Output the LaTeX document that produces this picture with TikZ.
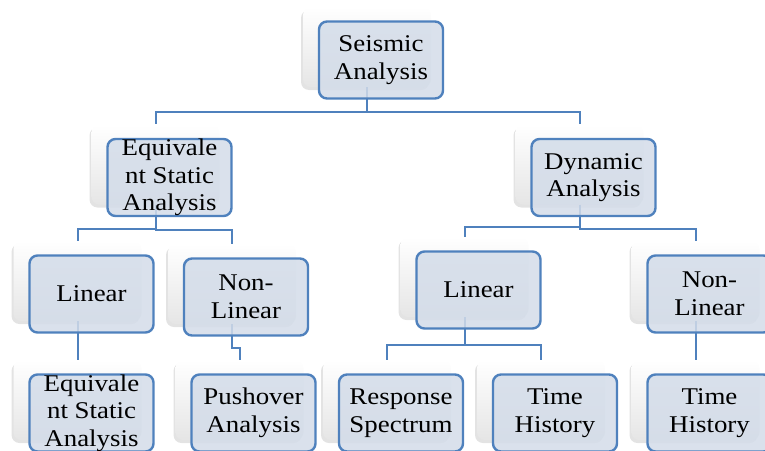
\documentclass[tikz,border=0pt]{standalone}
\usepackage{fontspec}
\setmainfont[FakeStretch=1.12]{Liberation Serif}
\usetikzlibrary{calc}
\usetikzlibrary{shadows}
\definecolor{smblue}{RGB}{79,129,189}
\definecolor{smfill}{RGB}{211,220,233}

\begin{document}
\begin{tikzpicture}[x=1pt,y=-1pt,inner sep=0pt,
  back/.style={rectangle,rounded corners=8pt,minimum width=128pt,minimum height=80pt,
    top color=white,bottom color=black!10,
    drop shadow={shadow xshift=-2pt,shadow yshift=-3pt,opacity=0.22}},
  front/.style={rectangle,rounded corners=8pt,draw=smblue,line width=2.4pt,
    fill=smfill,fill opacity=0.85,text opacity=1,minimum width=124pt,minimum height=77pt,
    align=center,font=\fontsize{24}{27.5}\selectfont},
  link/.style={draw=smblue,line width=2pt}]
\useasboundingbox (0,0) rectangle (765,450);
\clip (0,0) rectangle (765,450);
\def\dx{14}
\def\dy{13}
% back tiles
\node[back] (sab) at (381-\dx, 60-\dy) {};
\node[back] (esab) at (169.5-\dx, 177.5-\dy) {};
\node[back] (dab) at (593.5-\dx, 177.5-\dy) {};
\node[back] (lin1b) at (91.5-\dx, 294-\dy) {};
\node[back] (non1b) at (246-\dx, 297-\dy) {};
\node[back] (lin2b) at (478.5-\dx, 290-\dy) {};
\node[back] (non2b) at (709.5-\dx, 294-\dy) {};
\node[back] (esa2b) at (91.5-\dx, 413-\dy) {};
\node[back] (pob) at (253.5-\dx, 413-\dy) {};
\node[back] (rsb) at (401-\dx, 413-\dy) {};
\node[back] (th1b) at (555-\dx, 413-\dy) {};
\node[back] (th2b) at (709.5-\dx, 413-\dy) {};

% links
\draw[link] (sab.south) |- ($(sab.south)!0.5!(esab.north)+(0,6)$) -| (esab.north);
\draw[link] (sab.south) |- ($(sab.south)!0.5!(dab.north)+(0,6)$) -| (dab.north);
\draw[link] (esab.south) |- ($(esab.south)!0.5!(lin1b.north)+(0,6)$) -| (lin1b.north);
\draw[link] (esab.south) |- ($(esab.south)!0.5!(non1b.north)+(0,6)$) -| (non1b.north);
\draw[link] (dab.south) |- ($(dab.south)!0.5!(lin2b.north)+(0,6)$) -| (lin2b.north);
\draw[link] (dab.south) |- ($(dab.south)!0.5!(non2b.north)+(0,6)$) -| (non2b.north);
\draw[link] (lin1b.south) -- (esa2b.north);
\draw[link] (non1b.south) |- ($(non1b.south)!0.5!(pob.north)+(0,6)$) -| (pob.north);
\draw[link] (lin2b.south) |- ($(lin2b.south)!0.5!(rsb.north)+(0,6)$) -| (rsb.north);
\draw[link] (lin2b.south) |- ($(lin2b.south)!0.5!(th1b.north)+(0,6)$) -| (th1b.north);
\draw[link] (non2b.south) -- (th2b.north);

% front tiles
\node[front] (sa) at (381, 60) {Seismic\\Analysis};
\node[front] (esa) at (169.5, 177.5) {Equivale\\nt Static\\Analysis};
\node[front] (da) at (593.5, 177.5) {Dynamic\\Analysis};
\node[front] (lin1) at (91.5, 294) {Linear};
\node[front] (non1) at (246, 297) {Non-\\Linear};
\node[front] (lin2) at (478.5, 290) {Linear};
\node[front] (non2) at (709.5, 294) {Non-\\Linear};
\node[front] (esa2) at (91.5, 413) {Equivale\\nt Static\\Analysis};
\node[front] (po) at (253.5, 413) {Pushover\\Analysis};
\node[front] (rs) at (401, 413) {Response\\Spectrum};
\node[front] (th1) at (555, 413) {Time\\History};
\node[front] (th2) at (709.5, 413) {Time\\History};
\end{tikzpicture}
\end{document}
